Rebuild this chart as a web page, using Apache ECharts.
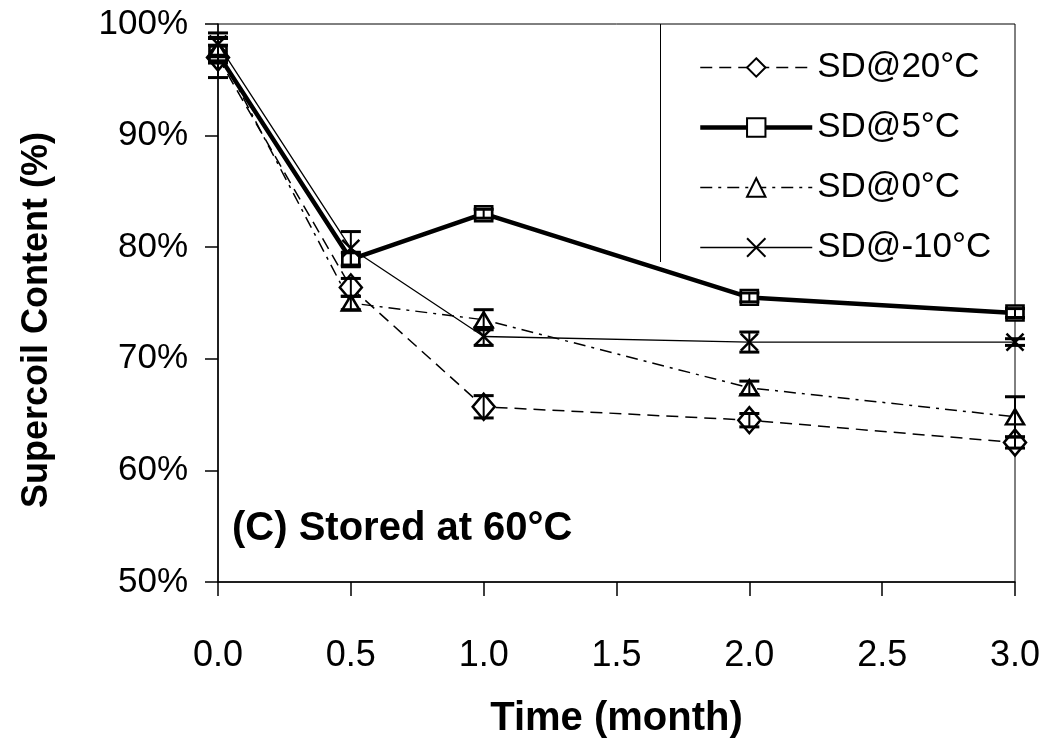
<!DOCTYPE html>
<html>
<head>
<meta charset="utf-8">
<script src="https://cdn.jsdelivr.net/npm/echarts@6/dist/echarts.min.js"></script>
<style>html,body{margin:0;padding:0;background:#fff;}#chart{width:1050px;height:750px;}</style>
</head>
<body>
<div id="chart"></div>
<script>
const times = [0, 0.5, 1, 2, 3];
const xTicks = [0, 0.5, 1, 1.5, 2, 2.5, 3];
const yTicks = [50, 60, 70, 80, 90, 100];
const names = ['SD@20°C', 'SD@5°C', 'SD@0°C', 'SD@-10°C'];
const sd20 = [97.0, 76.4, 65.7, 64.5, 62.5];
const sd20Err = [1.8, 0.8, 1.0, 0.6, 0.5];
const sd5 = [97.3, 78.9, 83.0, 75.5, 74.1];
const sd5Err = [0.8, 0.6, 0.4, 0.4, 0.4];
const sd0 = [97.7, 75.0, 73.5, 67.4, 64.8];
const sd0Err = [1.0, 0.6, 0.9, 0.6, 1.8];
const sdm10 = [98.2, 79.9, 72.0, 71.5, 71.5];
const sdm10Err = [1.0, 1.5, 0.8, 0.9, 0.3];

const FONT = 'Liberation Sans, Arial, sans-serif';
const xPath = 'path://M0,0L10,10M10,0L0,10';

function lineSeries(name, vals, symbol, size, lineStyle) {
  return {
    type: 'line', name: name,
    data: times.map((t, i) => [t, vals[i]]),
    symbol: symbol, symbolSize: size, showSymbol: true,
    lineStyle: Object.assign({ color: '#000' }, lineStyle),
    itemStyle: { color: '#fff', borderColor: '#000', borderWidth: 2.5 },
    z: 2, silent: true
  };
}
function errSeries(name, vals, errs) {
  return {
    type: 'custom', name: name + ' err',
    data: times.map((t, i) => [t, vals[i] - errs[i], vals[i] + errs[i]]),
    encode: { x: 0, y: [1, 2] },
    renderItem: function (params, api) {
      const x = api.value(0);
      const lo = api.coord([x, api.value(1)]);
      const hi = api.coord([x, api.value(2)]);
      const w = 10;
      const st = { stroke: '#000', lineWidth: 2 };
      const cap = { stroke: '#000', lineWidth: 3 };
      return { type: 'group', children: [
        { type: 'line', shape: { x1: lo[0], y1: lo[1], x2: hi[0], y2: hi[1] }, style: st },
        { type: 'line', shape: { x1: lo[0] - w, y1: lo[1], x2: lo[0] + w, y2: lo[1] }, style: cap },
        { type: 'line', shape: { x1: hi[0] - w, y1: hi[1], x2: hi[0] + w, y2: hi[1] }, style: cap }
      ]};
    },
    z: 4, silent: true
  };
}

const chart = echarts.init(document.getElementById('chart'), null, { renderer: 'canvas' });
chart.setOption({
  animation: false,
  backgroundColor: '#fff',
  grid: { left: 218, right: 35, top: 24, bottom: 168, show: true, borderColor: '#000', borderWidth: 1, backgroundColor: 'transparent' },
  xAxis: {
    type: 'value', min: 0, max: 3, interval: 0.5,
    axisLine: { show: true, lineStyle: { color: '#000', width: 1.5 } },
    axisTick: { show: true, inside: false, length: 14, lineStyle: { color: '#000', width: 1.5 } },
    splitLine: { show: false },
    axisLabel: { color: '#000', fontFamily: FONT, fontSize: 36, margin: 56, formatter: v => v.toFixed(1) },
    name: 'Time (month)', nameLocation: 'middle', nameGap: 117,
    nameTextStyle: { color: '#000', fontFamily: FONT, fontWeight: 'bold', fontSize: 40 }
  },
  yAxis: {
    type: 'value', min: 50, max: 100, interval: 10,
    axisLine: { show: true, lineStyle: { color: '#000', width: 1.5 } },
    axisTick: { show: true, inside: false, length: 13, lineStyle: { color: '#000', width: 1.5 } },
    splitLine: { show: false },
    axisLabel: { color: '#000', fontFamily: FONT, fontSize: 35, margin: 30, formatter: '{value}%' }
  },
  legend: {
    orient: 'vertical', left: 693, top: 45,
    itemWidth: 112, itemHeight: 23, itemGap: 25,
    data: [
      { name: names[0], lineStyle: { width: 1.5 } },
      { name: names[1], lineStyle: { width: 4.5 } },
      { name: names[2], lineStyle: { width: 1.5 } },
      { name: names[3], lineStyle: { width: 1.5 } }
    ],
    textStyle: { color: '#000', fontFamily: FONT, fontSize: 35, lineHeight: 35 },
    selectedMode: false
  },
  graphic: [
    { type: 'text', left: 232, top: 509, style: { text: '(C) Stored at 60°C', fill: '#000', font: 'bold 40px ' + FONT } },
    { type: 'text', x: 37, y: 320, rotation: Math.PI / 2, style: { text: 'Supercoil Content (%)', fill: '#000', font: 'bold 36px ' + FONT, align: 'center', verticalAlign: 'middle' } },
    { type: 'line', shape: { x1: 660.5, y1: 24, x2: 660.5, y2: 262 }, style: { stroke: '#000', lineWidth: 1 } }
  ],
  series: [
    lineSeries(names[0], sd20, 'diamond', [22, 26], { width: 1.5, type: [12, 7] }),
    lineSeries(names[1], sd5, 'rect', [17, 15], { width: 4.5, type: 'solid' }),
    lineSeries(names[2], sd0, 'triangle', [18, 15], { width: 1.5, type: [12, 6, 3, 6] }),
    lineSeries(names[3], sdm10, xPath, 17, { width: 1.3, type: 'solid' }),
    errSeries(names[0], sd20, sd20Err),
    errSeries(names[1], sd5, sd5Err),
    errSeries(names[2], sd0, sd0Err),
    errSeries(names[3], sdm10, sdm10Err)
  ]
});
</script>
</body>
</html>
